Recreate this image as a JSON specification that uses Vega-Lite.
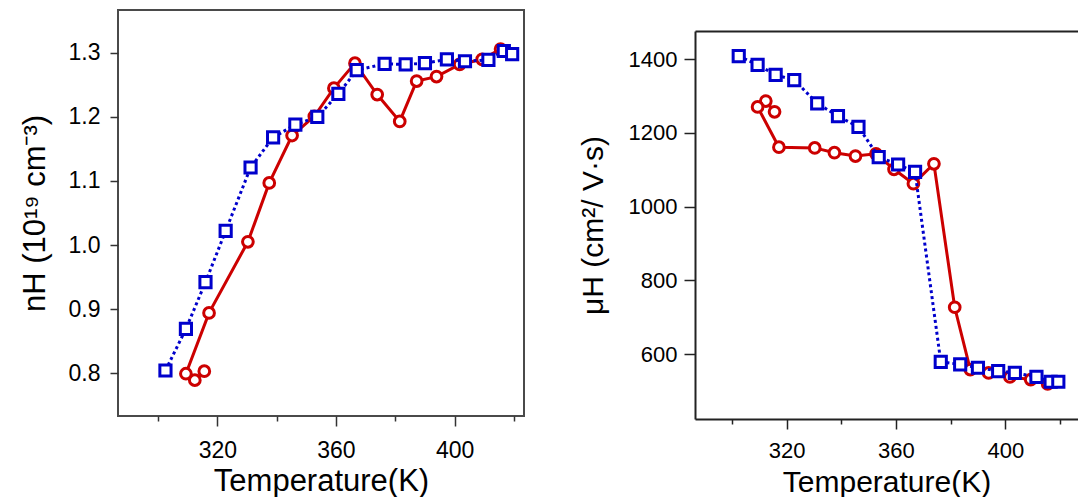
{
  "$schema": "https://vega.github.io/schema/vega-lite/v6.json",
  "padding": {"left": 18, "top": 9, "right": 0, "bottom": 0},
  "background": "white",
  "config": {
    "font": "Liberation Sans",
    "axis": {"grid": false, "labelColor": "black", "titleColor": "black", "titleFontWeight": "normal", "labelOverlap": false, "labelFlush": false}
  },
  "datasets": {
    "pts": [
      {"series": "red", "ord": 1, "T": 315.6, "n": 0.803, "mu": 1257},
      {"series": "red", "ord": 2, "T": 312.4, "n": 0.789, "mu": 1286},
      {"series": "red", "ord": 3, "T": 309.4, "n": 0.799, "mu": 1270},
      {"series": "red", "ord": 4, "T": 317.2, "n": 0.894, "mu": 1161},
      {"series": "red", "ord": 5, "T": 330.3, "n": 1.005, "mu": 1159},
      {"series": "red", "ord": 6, "T": 337.5, "n": 1.097, "mu": 1146},
      {"series": "red", "ord": 7, "T": 345.2, "n": 1.171, "mu": 1137},
      {"series": "red", "ord": 8, "T": 352.7, "n": 1.201, "mu": 1143},
      {"series": "red", "ord": 9, "T": 359.3, "n": 1.245, "mu": 1101},
      {"series": "red", "ord": 10, "T": 366.4, "n": 1.284, "mu": 1062},
      {"series": "red", "ord": 11, "T": 373.9, "n": 1.235, "mu": 1116},
      {"series": "red", "ord": 12, "T": 381.5, "n": 1.193, "mu": 727},
      {"series": "red", "ord": 13, "T": 387.2, "n": 1.256, "mu": 558},
      {"series": "red", "ord": 14, "T": 393.9, "n": 1.263, "mu": 549},
      {"series": "red", "ord": 15, "T": 401.7, "n": 1.282, "mu": 538},
      {"series": "red", "ord": 16, "T": 409.3, "n": 1.290, "mu": 531},
      {"series": "red", "ord": 17, "T": 415.5, "n": 1.306, "mu": 519},
      {"series": "blue", "ord": 1, "T": 302.5, "n": 0.804, "mu": 1408},
      {"series": "blue", "ord": 2, "T": 309.4, "n": 0.869, "mu": 1384},
      {"series": "blue", "ord": 3, "T": 316.0, "n": 0.942, "mu": 1357},
      {"series": "blue", "ord": 4, "T": 322.8, "n": 1.022, "mu": 1343},
      {"series": "blue", "ord": 5, "T": 331.2, "n": 1.121, "mu": 1280},
      {"series": "blue", "ord": 6, "T": 338.8, "n": 1.168, "mu": 1245},
      {"series": "blue", "ord": 7, "T": 346.3, "n": 1.188, "mu": 1216},
      {"series": "blue", "ord": 8, "T": 353.7, "n": 1.200, "mu": 1134},
      {"series": "blue", "ord": 9, "T": 360.8, "n": 1.236, "mu": 1114},
      {"series": "blue", "ord": 10, "T": 367.0, "n": 1.273, "mu": 1094},
      {"series": "blue", "ord": 11, "T": 376.4, "n": 1.283, "mu": 579},
      {"series": "blue", "ord": 12, "T": 383.5, "n": 1.282, "mu": 572},
      {"series": "blue", "ord": 13, "T": 390.0, "n": 1.284, "mu": 563},
      {"series": "blue", "ord": 14, "T": 397.4, "n": 1.290, "mu": 554},
      {"series": "blue", "ord": 15, "T": 403.5, "n": 1.287, "mu": 549},
      {"series": "blue", "ord": 16, "T": 411.4, "n": 1.289, "mu": 538},
      {"series": "blue", "ord": 17, "T": 416.6, "n": 1.303, "mu": 525},
      {"series": "blue", "ord": 18, "T": 419.4, "n": 1.298, "mu": 525}
    ]
  },
  "spacing": 53,
  "hconcat": [
    {
      "width": 406,
      "height": 406,
      "data": {"name": "pts"},
      "view": {"stroke": "#4a4a4a", "strokeWidth": 2},
      "encoding": {
        "x": {
          "field": "T", "type": "quantitative",
          "scale": {"domain": [286.5, 423.4], "nice": false, "zero": false},
          "axis": {
            "values": [300, 320, 340, 360, 380, 400, 420],
            "labelExpr": "datum.value % 40 === 0 ? datum.label : ''",
            "tickSize": {"condition": {"test": "datum.value % 40 === 0", "value": 10}, "value": 5},
            "tickColor": "#333", "tickWidth": 1.5,
            "domain": false,
            "labelFontSize": 23, "labelPadding": 13,
            "title": "Temperature(K)", "titleFontSize": 31, "titlePadding": 4
          }
        },
        "y": {
          "field": "n", "type": "quantitative",
          "scale": {"domain": [0.733, 1.367], "nice": false, "zero": false},
          "axis": {
            "values": [0.8, 0.9, 1.0, 1.1, 1.2, 1.3],
            "format": ".1f",
            "tickSize": 8, "tickColor": "#333", "tickWidth": 1.5,
            "domain": false,
            "labelFontSize": 23, "labelPadding": 10,
            "title": "nH (10¹⁹ cm⁻³)", "titleFontSize": 31, "titlePadding": 17
          }
        },
        "order": {"field": "ord", "type": "quantitative"}
      },
      "layer": [
        {"transform": [{"filter": "datum.series === 'red'"}], "mark": {"type": "line", "color": "#cc0000", "strokeWidth": 3}},
        {"transform": [{"filter": "datum.series === 'red'"}], "mark": {"type": "point", "shape": "circle", "filled": true, "fill": "white", "stroke": "#cc0000", "strokeWidth": 3, "size": 115, "opacity": 1}},
        {"transform": [{"filter": "datum.series === 'blue'"}], "mark": {"type": "line", "color": "#0000cc", "strokeWidth": 3, "strokeDash": [3, 3]}},
        {"transform": [{"filter": "datum.series === 'blue'"}], "mark": {"type": "point", "shape": "square", "filled": true, "fill": "white", "stroke": "#0000cc", "strokeWidth": 3, "size": 125, "opacity": 1}}
      ]
    },
    {
      "spacing": 20,
      "vconcat": [
        {
          "width": 383, "height": 1,
          "data": {"values": []},
          "view": {"stroke": null},
          "mark": {"type": "point"}
        },
        {
          "width": 383,
          "height": 388,
          "data": {"name": "pts"},
          "view": {"stroke": null},
          "resolve": {"axis": {"x": "independent"}},
          "encoding": {
            "y": {
              "field": "mu", "type": "quantitative",
              "scale": {"domain": [424, 1476], "nice": false, "zero": false},
              "axis": {
                "values": [600, 800, 1000, 1200, 1400],
                "format": "d",
                "tickSize": 11, "tickColor": "#222", "tickWidth": 1.5,
                "domain": true, "domainColor": "#222", "domainWidth": 2,
                "labelFontSize": 22, "labelPadding": 7,
                "title": "μH (cm²/ V·s)", "titleFontSize": 30, "titlePadding": 20
              }
            },
            "order": {"field": "ord", "type": "quantitative"}
          },
          "layer": [
            {
              "transform": [{"filter": "datum.series === 'red'"}],
              "mark": {"type": "line", "color": "#cc0000", "strokeWidth": 3},
              "encoding": {
                "x": {
                  "field": "T", "type": "quantitative",
                  "scale": {"domain": [286.5, 426.6], "nice": false, "zero": false},
                  "axis": {
                    "values": [300, 320, 340, 360, 380, 400, 420],
                    "labelExpr": "datum.value % 40 === 0 ? datum.label : ''",
                    "tickSize": {"condition": {"test": "datum.value % 40 === 0", "value": 10}, "value": 5},
                    "tickColor": "#222", "tickWidth": 1.5,
                    "domain": true, "domainColor": "#222", "domainWidth": 2,
                    "labelFontSize": 22, "labelPadding": 11,
                    "title": "Temperature(K)", "titleFontSize": 30, "titlePadding": 6
                  }
                }
              }
            },
            {
              "transform": [{"filter": "datum.series === 'red'"}],
              "mark": {"type": "point", "shape": "circle", "filled": true, "fill": "white", "stroke": "#cc0000", "strokeWidth": 3, "size": 115, "opacity": 1},
              "encoding": {"x": {"field": "T", "type": "quantitative", "axis": null}}
            },
            {
              "transform": [{"filter": "datum.series === 'blue'"}],
              "mark": {"type": "line", "color": "#0000cc", "strokeWidth": 3, "strokeDash": [3, 3]},
              "encoding": {"x": {"field": "T", "type": "quantitative", "axis": null}}
            },
            {
              "transform": [{"filter": "datum.series === 'blue'"}],
              "mark": {"type": "point", "shape": "square", "filled": true, "fill": "white", "stroke": "#0000cc", "strokeWidth": 3, "size": 125, "opacity": 1},
              "encoding": {
                "x": {
                  "field": "T", "type": "quantitative",
                  "axis": {"orient": "top", "ticks": false, "labels": false, "title": null, "domain": true, "domainColor": "#222", "domainWidth": 2}
                }
              }
            }
          ]
        }
      ]
    }
  ]
}
